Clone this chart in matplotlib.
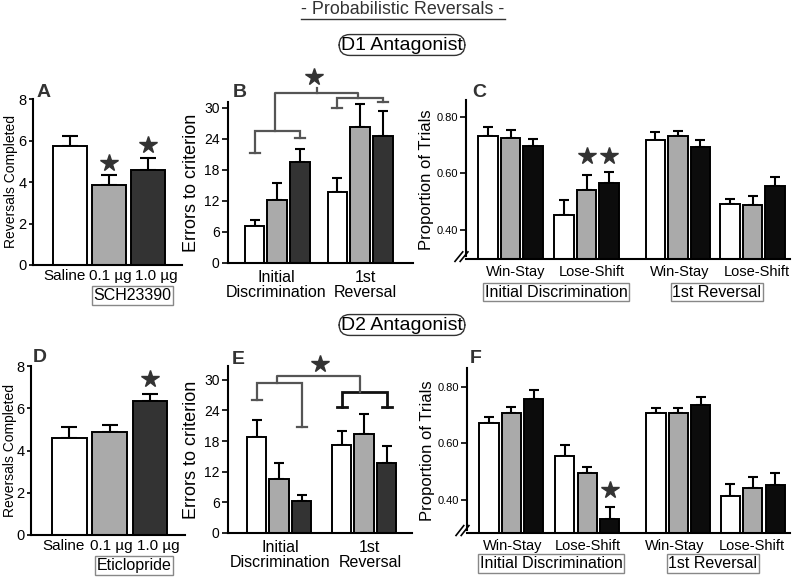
import matplotlib.pyplot as plt
from matplotlib.lines import Line2D
import numpy as np

plt.rcParams['font.family'] = ['Liberation Sans', 'DejaVu Sans']

# ---- data ----
doses = ['Saline', '0.1 µg', '1.0 µg']
phases = ['Initial\nDiscrimination', '1st\nReversal']
strategies = ['Win-Stay', 'Lose-Shift', 'Win-Stay', 'Lose-Shift']

# A: D1 antagonist, reversals completed
a_mean = [5.75, 3.85, 4.6]
a_sem = [0.45, 0.5, 0.55]
# D: D2 antagonist, reversals completed
d_mean = [4.6, 4.86, 6.36]
d_sem = [0.5, 0.34, 0.3]

# B: D1 errors to criterion (initial discrimination, 1st reversal)
b_mean = [7.1, 12.2, 19.5, 13.8, 26.3, 24.6]
b_sem = [1.3, 3.3, 2.6, 2.7, 4.5, 4.8]
# E: D2 errors to criterion
e_mean = [18.8, 10.6, 6.3, 17.2, 19.3, 13.75]
e_sem = [3.3, 3.2, 1.2, 2.7, 4.0, 3.3]

# C: D1 proportion of trials (ID WS, ID LS, Rev WS, Rev LS) x (saline, 0.1, 1.0)
c_mean = [0.734, 0.725, 0.696, 0.454, 0.541, 0.567,
          0.720, 0.732, 0.692, 0.492, 0.487, 0.555]
c_sem = [0.030, 0.028, 0.026, 0.052, 0.053, 0.038,
         0.026, 0.019, 0.028, 0.016, 0.033, 0.032]
# F: D2 proportion of trials
f_mean = [0.673, 0.706, 0.758, 0.555, 0.496, 0.332,
          0.706, 0.706, 0.736, 0.415, 0.444, 0.454]
f_sem = [0.021, 0.023, 0.030, 0.039, 0.022, 0.042,
         0.018, 0.019, 0.029, 0.040, 0.036, 0.040]

WHITE, GRAY, DARK, BLACK = '#ffffff', '#aaaaaa', '#333333', '#0c0c0c'
STAR = '#333333'
BRK = '#555555'
NARROW = ['Liberation Sans Narrow', 'Liberation Sans', 'DejaVu Sans']

fig = plt.figure(figsize=(7.96, 5.78), dpi=100)
W, H = 796, 578


def add_ax(left, bottom, right, top):
    return fig.add_axes([left / W, (H - bottom) / H, (right - left) / W, (bottom - top) / H])


def style(ax, ysize=10.5, xsize=11.5):
    for s in ['top', 'right']:
        ax.spines[s].set_visible(False)
    for s in ['left', 'bottom']:
        ax.spines[s].set_linewidth(1.5)
    ax.tick_params(axis='y', direction='out', length=4, width=1.2, labelsize=ysize, pad=2)
    ax.tick_params(axis='x', length=0, labelsize=xsize, pad=5)


def bars(ax, x, mean, sem, colors, capsize):
    ax.bar(x, mean, width=0.86, color=colors, edgecolor='black', linewidth=1.4, zorder=2)
    ax.errorbar(x, mean, yerr=[np.zeros(len(sem)), sem], fmt='none', ecolor='black',
                elinewidth=1.5, capsize=capsize, capthick=1.5, zorder=1)


def star(ax, x, y):
    ax.plot([x], [y], marker='*', ms=13, color=STAR, clip_on=False, zorder=5)


def bracket(ax, xl, xr, yl, yr, yh, color=BRK, lw=1.6, cap=0.22):
    ax.plot([xl, xl, xr, xr], [yl, yh, yh, yr], color=color, lw=lw, clip_on=False,
            solid_joinstyle='miter')
    ax.plot([xl - cap, xl + cap], [yl, yl], color=color, lw=lw, clip_on=False)
    ax.plot([xr - cap, xr + cap], [yr, yr], color=color, lw=lw, clip_on=False)


def box_label(ax, x, text, dy):
    ax.annotate(text, xy=(x, 0), xycoords=('data', 'axes fraction'),
                xytext=(0, dy), textcoords='offset points', ha='center', va='center',
                fontsize=11.5, bbox=dict(boxstyle='square,pad=0.1', fc='white',
                                         ec='#888888', lw=1.0))


# ---- A & D: reversals completed ----
for (l, b, r, t), mean, sem, drug, stars, lx in [
        ((33, 265, 182, 99), a_mean, a_sem, 'SCH23390', [(1, 4.9), (2, 5.8)], -0.104),
        ((31, 535, 185, 366), d_mean, d_sem, 'Eticlopride', [(2, 7.37)], -0.088)]:
    ax = add_ax(l, b, r, t)
    x = np.arange(3)
    bars(ax, x, mean, sem, [WHITE, GRAY, DARK], 5.5)
    ax.set_xlim(-0.95, 2.87)
    ax.set_ylim(0, 8)
    ax.set_yticks([0, 2, 4, 6, 8])
    ax.set_xticks([-0.15, 1.03, 2.2])
    ax.set_xticklabels(doses)
    ax.set_ylabel('Reversals Completed', fontsize=10)
    ax.yaxis.set_label_coords(lx, 0.5)
    style(ax, xsize=11)
    ax.tick_params(axis='y', length=3, pad=1.5)
    ax.tick_params(axis='x', pad=3)
    for sx, sy in stars:
        star(ax, sx, sy)
    box_label(ax, 1.6, drug, -22)

# ---- B & E: errors to criterion ----
for (l, b, r, t), mean, sem, off, xl, ylim, lab_x in [
        ((228, 263, 413, 102), b_mean, b_sem, 3.65, (-1.17, 6.98), 31.1, [0.95, 4.9]),
        ((228, 533, 412, 366), e_mean, e_sem, 3.78, (-1.27, 6.91), 32.7, [1.04, 5.04])]:
    ax = add_ax(l, b, r, t)
    x = np.array([0, 1, 2, off, off + 1, off + 2])
    bars(ax, x, mean, sem, [WHITE, GRAY, DARK] * 2, 3.8)
    ax.set_xlim(*xl)
    ax.set_ylim(0, ylim)
    ax.set_yticks([0, 6, 12, 18, 24, 30])
    ax.set_xticks(lab_x)
    ax.set_xticklabels(phases, linespacing=1.0)
    ax.set_ylabel('Errors to criterion', fontsize=13)
    ax.yaxis.set_label_coords(-0.15, 0.5)
    style(ax, ysize=10)
    if ax.get_position().y0 > 0.5:
        bB = ax
    else:
        bE = ax

# brackets panel B
bracket(bB, 0, 2, 21.3, 24.2, 25.5)
bracket(bB, 3.65, 5.65, 30.0, 31.1, 31.9)
bB.plot([0.9, 0.9, 4.56, 4.56], [25.5, 32.9, 32.9, 31.9], color=BRK, lw=1.6, clip_on=False)
bB.plot([2.73, 2.73], [32.9, 33.8], color=BRK, lw=1.6, clip_on=False)
star(bB, 2.6, 35.9)

# brackets panel E
bracket(bE, 0, 2, 26.1, 20.7, 29.3)
bracket(bE, 3.78, 5.78, 24.6, 24.6, 27.7, color='#111111', lw=2.0)
bE.plot([0.9, 0.9, 4.6, 4.6], [29.3, 30.8, 30.8, 27.7], color=BRK, lw=1.6, clip_on=False)
star(bE, 2.8, 33.0)

# ---- C & F: proportion of trials ----
grp = [0, 3.38, 7.44, 10.76]
xp = np.concatenate([[g, g + 1, g + 2] for g in grp])
for (l, b, r, t), mean, sem, ylim, stars, boxdy, tick_x, box_x in [
        ((466, 259, 790, 100), c_mean, c_sem, (0.297, 0.86),
         [(4.38, 0.661), (5.38, 0.661)], -24, [1.25, 4.6, 8.5, 11.95], [3.04, 10.16]),
        ((467, 533, 790, 368), f_mean, f_sem, (0.283, 0.867),
         [(5.38, 0.435)], -22, [1.04, 4.4, 8.3, 11.7], [2.76, 9.98])]:
    ax = add_ax(l, b, r, t)
    bars(ax, xp, mean, sem, [WHITE, GRAY, BLACK] * 4, 3.6)
    ax.set_xlim(-0.98, 13.42)
    ax.set_ylim(*ylim)
    ax.set_yticks([0.4, 0.6, 0.8])
    ax.set_yticklabels(['0.40', '0.60', '0.80'], family=NARROW)
    ax.set_xticks(tick_x)
    ax.set_xticklabels(strategies)
    ax.set_ylabel('Proportion of Trials', fontsize=12)
    ax.yaxis.set_label_coords(-0.10, 0.5)
    style(ax, ysize=8, xsize=10.5)
    ax.tick_params(axis='x', pad=4)
    ax.spines['left'].set_bounds(ylim[0] + 0.012, ylim[1])
    for sx, sy in stars:
        star(ax, sx, sy)
    # axis break marks
    for dx in (-0.022, -0.006):
        ax.plot([dx - 0.012, dx + 0.012], [-0.015, 0.045], transform=ax.transAxes,
                color='black', lw=1.2, clip_on=False)
    box_label(ax, box_x[0], 'Initial Discrimination', boxdy)
    box_label(ax, box_x[1], '1st Reversal', boxdy)

# ---- panel letters ----
for letter, px, py in [('A', 37, 97), ('B', 233, 97), ('C', 472, 97),
                       ('D', 33, 362), ('E', 232, 364), ('F', 470, 363)]:
    fig.text(px / W, (H - py) / H, letter, fontsize=14, fontweight='bold',
             color='#333333', ha='left', va='baseline')

# ---- headings ----
title = fig.text(403 / W, (H - 14) / H, '- Probabilistic Reversals -', fontsize=12.9,
                 color='#333333', ha='center', va='baseline')
for lab, py in [('D1 Antagonist', 45), ('D2 Antagonist', 325)]:
    fig.text(402 / W, (H - py) / H, lab, fontsize=14, ha='center', va='center',
             bbox=dict(boxstyle='round,pad=0.1,rounding_size=0.55', fc='white',
                       ec='#333333', lw=1.0))

fig.canvas.draw()
bb = title.get_window_extent()
uy = bb.y0 - 1
fig.add_artist(Line2D([bb.x0 / W, bb.x1 / W], [uy / H, uy / H], color='#333333', lw=1.0))

fig.savefig('out.png', dpi=100)
